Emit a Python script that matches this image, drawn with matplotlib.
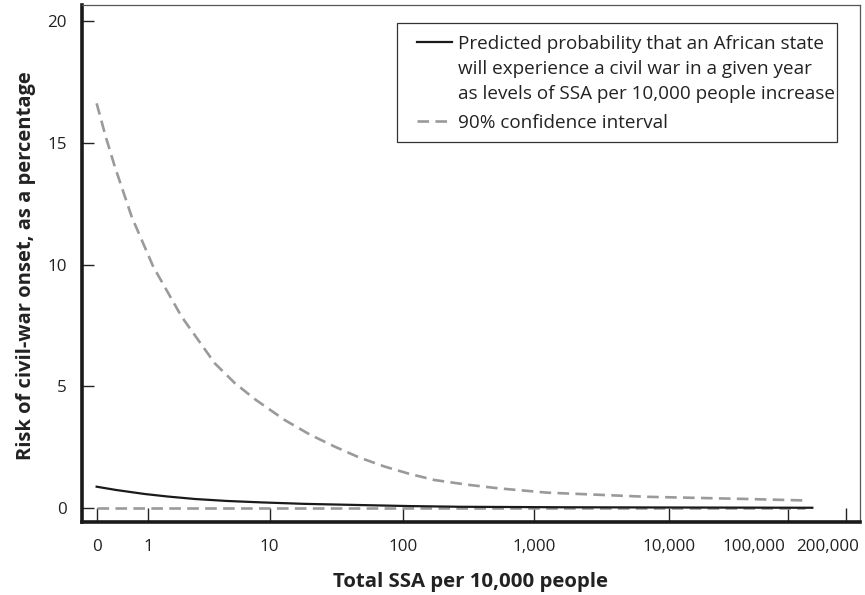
import matplotlib
matplotlib.use("Agg")
import matplotlib.pyplot as plt
from matplotlib.lines import Line2D
from matplotlib.patches import Rectangle
import matplotlib.transforms as mtrans

plt.rcParams['font.family'] = ['Open Sans', 'DejaVu Sans']

# x is expressed in axis-position units (tick "0" at 0, roughly one unit per decade)
tick_pos = [0, 0.398, 1.331, 2.36, 3.369, 4.405, 5.32, 5.77]
tick_labels = ['0', '1', '10', '100', '1,000', '10,000', '100,000', '200,000']

pred_x = [0, 0.15, 0.37, 0.55, 0.756, 1.0, 1.27, 1.6, 2.04, 2.4, 2.8, 3.6, 4.5, 5.51]
pred_y = [0.875, 0.74, 0.575, 0.47, 0.37, 0.29, 0.23, 0.17, 0.12, 0.08, 0.05, 0.03, 0.02, 0.01]

ci_up_x = [0, 0.07, 0.14, 0.27, 0.436, 0.654, 0.91, 1.06, 1.218, 1.449, 1.64, 1.833,
           2.02, 2.218, 2.41, 2.60, 2.85, 3.09, 3.47, 4.24, 5.01, 5.45]
ci_up_y = [16.62, 15.25, 14.02, 11.96, 9.91, 7.86, 5.94, 5.15, 4.47, 3.61, 3.02, 2.52,
           2.08, 1.70, 1.40, 1.15, 0.96, 0.81, 0.63, 0.46, 0.37, 0.31]

ci_lo_x = [0, 5.45]
ci_lo_y = [0, 0]

y_ticks = [0, 5, 10, 15, 20]

legend_pred_lines = ["Predicted probability that an African state",
                     "will experience a civil war in a given year",
                     "as levels of SSA per 10,000 people increase"]
legend_ci = "90% confidence interval"
x_title = "Total SSA per 10,000 people"
y_title = "Risk of civil-war onset, as a percentage"

W, H = 865, 595
fig = plt.figure(figsize=(W / 100, H / 100), dpi=100)
AX_L, AX_R, AX_T, AX_B = 81.7, 860.0, 5.0, 522.0
ax = fig.add_axes([AX_L / W, 1 - AX_B / H, (AX_R - AX_L) / W, (AX_B - AX_T) / H])

def fpx(x, y):
    """pixel (from top-left) -> figure fraction"""
    return x / W, 1 - y / H

fig.canvas.draw()
renderer = fig.canvas.get_renderer()

def fit_size(s, target_px, weight='normal', base=12.0):
    t = fig.text(0, 0, s, fontsize=base, fontweight=weight)
    w = t.get_window_extent(renderer).width
    t.remove()
    return base * target_px / w

fs_tick = (fit_size('100,000', 61) + fit_size('10,000', 55)) / 2
fs_leg = fit_size(legend_pred_lines[2], 375)
fs_xlab = fit_size(x_title, 275, 'bold')
fs_ylab = fit_size(y_title, 388, 'bold')

gray = '#9a9a9a'
dark = '#1a1a1a'
txt = '#222222'
dash = (4.4, 2.4)
ax.plot(ci_lo_x, ci_lo_y, color=gray, lw=1.9, dashes=dash, zorder=2)
ax.plot(ci_up_x, ci_up_y, color=gray, lw=1.9, dashes=dash, zorder=2)
ax.plot(pred_x, pred_y, color=dark, lw=1.6, zorder=3)

ax.set_xlim(-0.115, 5.877)
ax.set_ylim(-0.575, 20.66)

ax.set_xticks(tick_pos)
ax.set_xticklabels(tick_labels, fontsize=fs_tick, color=txt)
ax.set_yticks(y_ticks)
ax.set_yticklabels([str(v) for v in y_ticks], fontsize=fs_tick, color=txt)
ax.tick_params(axis='x', direction='in', length=10, width=1.0, color=txt, pad=12)
ax.tick_params(axis='y', direction='in', length=8.5, width=1.0, color=txt, pad=10.5)

# the two last labels sit left of their ticks in the reference
shifts = {'100,000': -33.7, '200,000': -18.5}
for lab in ax.get_xticklabels():
    dx = shifts.get(lab.get_text())
    if dx:
        lab.set_transform(lab.get_transform() +
                          mtrans.ScaledTranslation(dx / 100, 0, fig.dpi_scale_trans))

for side in ['left', 'bottom']:
    ax.spines[side].set_linewidth(2.6)
    ax.spines[side].set_color(dark)
for side in ['top', 'right']:
    ax.spines[side].set_linewidth(0.9)
    ax.spines[side].set_color('#555555')

fig.text(*fpx(470.5, 587), x_title, fontsize=fs_xlab, fontweight='bold', color=txt,
         ha='center', va='baseline')
fig.text(*fpx(26, 266), y_title, fontsize=fs_ylab, fontweight='bold', color=txt,
         ha='center', va='center', rotation=90)

# legend drawn by hand (handle aligned with first line of the label)
box_l, box_r, box_t, box_b = 397, 837, 23, 142
x0, y0 = fpx(box_l, box_b)
x1, y1 = fpx(box_r, box_t)
fig.add_artist(Rectangle((x0, y0), x1 - x0, y1 - y0, transform=fig.transFigure,
                         facecolor='white', edgecolor='#333333', lw=0.9, zorder=5))
line_centers = [42, 67, 92]
ci_center = 121.5
cap_off = 0.36 * fs_leg * 100 / 72
hx0, hx1, tx = 417, 452, 458
fig.add_artist(Line2D([hx0 / W, hx1 / W], [1 - line_centers[0] / H] * 2,
                      transform=fig.transFigure, color=dark, lw=1.6, zorder=6))
fig.add_artist(Line2D([hx0 / W, hx1 / W], [1 - ci_center / H] * 2,
                      transform=fig.transFigure, color=gray, lw=1.9, dashes=dash, zorder=6))
for s, yc in zip(legend_pred_lines, line_centers):
    fig.text(*fpx(tx, yc + cap_off), s, fontsize=fs_leg, color=txt,
             ha='left', va='baseline', zorder=7)
fig.text(*fpx(tx, ci_center + cap_off), legend_ci, fontsize=fs_leg, color=txt,
         ha='left', va='baseline', zorder=7)

fig.savefig('out.png', dpi=100)
